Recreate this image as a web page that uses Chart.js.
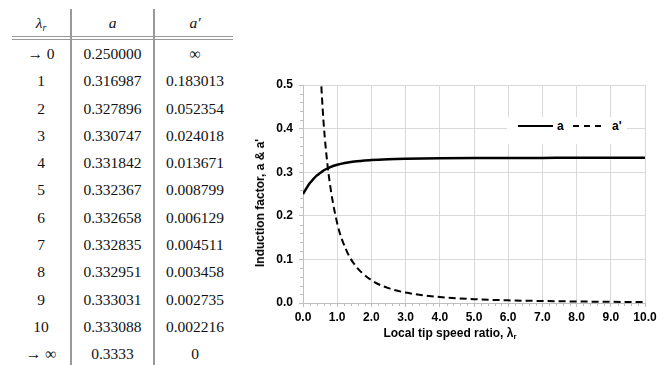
<!DOCTYPE html>
<html>
<head>
<meta charset="utf-8">
<script src="https://cdn.jsdelivr.net/npm/chart.js@4"></script>
<style>
  html, body { margin: 0; padding: 0; background: #fff; }
  #page { position: relative; width: 668px; height: 365px; overflow: hidden; background: #fff; }
  #tbl { position: absolute; left: 12px; top: 9px; border-collapse: collapse; font-family: 'Liberation Serif', 'DejaVu Serif', serif; font-size: 15.5px; color: #111; }
  #tbl th, #tbl td { padding: 0; text-align: center; font-weight: normal; }
  #tbl th { height: 31px; vertical-align: top; line-height: 28px; font-style: italic; }
  #tbl td { height: 27.3px; line-height: 27.3px; }
  #tbl .c1 { width: 58px; }
  #tbl .c2 { width: 81px; border-left: 2px solid #999; }
  #tbl .c3 { width: 80px; border-left: 2px solid #999; }
  #tbl sub { font-size: 10px; vertical-align: -3px; line-height: 0; }
  .rule { position: absolute; left: 12px; top: 36px; width: 221px; height: 2px; border-top: 1px solid #999; border-bottom: 1px solid #999; }
  #wrap { position: absolute; left: 240px; top: 60px; width: 428px; height: 305px; }
  .axt { position: absolute; font-family: 'Liberation Sans', Arial, sans-serif; font-weight: bold; font-size: 12px; color: #000; white-space: nowrap; }
  .axt sub { font-size: 8px; vertical-align: -2px; line-height: 0; }
  #legend { position: absolute; left: 507px; top: 117px; width: 120px; height: 27px; background: #fff;
            font-family: 'Liberation Sans', Arial, sans-serif; font-weight: bold; font-size: 12px; }
  #legend svg { position: absolute; left: 0; top: 0; }
  #legend span { position: absolute; top: 2px; line-height: 14px; }
</style>
</head>
<body>
<div id="page">
  <table id="tbl"><thead><tr>
    <th class="c1">λ<sub>r</sub></th><th class="c2">a</th><th class="c3">a′</th>
  </tr></thead><tbody id="tbody"></tbody></table>
  <div class="rule"></div>

  <div id="wrap"><canvas id="myChart"></canvas></div>

  <div class="axt" id="ytitle" style="left:260px; top:203px; transform: translate(-50%,-50%) rotate(-90deg);">Induction factor, a &amp; a'</div>
  <div class="axt" id="xtitle" style="left:450px; top:333px; transform: translate(-50%,-50%);">Local tip speed ratio, λ<sub>r</sub></div>

  <div id="legend">
    <svg width="120" height="27">
      <line x1="11" y1="9" x2="46" y2="9" stroke="#000" stroke-width="2"/>
      <line x1="66" y1="9" x2="97" y2="9" stroke="#000" stroke-width="2" stroke-dasharray="6,5"/>
    </svg>
    <span style="left:50px">a</span>
    <span style="left:105px">a'</span>
  </div>
</div>

<script>
// table values
const tableLambda = ['→ 0', '1', '2', '3', '4', '5', '6', '7', '8', '9', '10', '→ ∞']
const tableA = ['0.250000', '0.316987', '0.327896', '0.330747', '0.331842', '0.332367', '0.332658', '0.332835', '0.332951', '0.333031', '0.333088', '0.3333']
const tableAPrime = ['∞', '0.183013', '0.052354', '0.024018', '0.013671', '0.008799', '0.006129', '0.004511', '0.003458', '0.002735', '0.002216', '0']

const lambdaA = [0, 0.1, 0.2, 0.3, 0.4, 0.5, 0.6, 0.75, 1, 1.5, 2, 2.5, 3, 4, 5, 6, 7, 8, 9, 10]
const aValues = [0.250, 0.263, 0.275, 0.284, 0.292, 0.298, 0.304, 0.310, 0.317, 0.3245, 0.3279, 0.3297, 0.3307, 0.3318, 0.3324, 0.3327, 0.3328, 0.3330, 0.3330, 0.3331]

// curve a'
const lambdaAp = [0.5, 0.6, 0.75, 1, 1.25, 1.5, 2, 2.5, 3, 4, 5, 6, 7, 8, 9, 10]
const apValues = [0.547, 0.416, 0.295, 0.183, 0.124, 0.089, 0.0524, 0.034, 0.024, 0.0137, 0.0088, 0.0061, 0.0045, 0.0035, 0.0027, 0.0022]

const tbody = document.getElementById('tbody')
tableLambda.forEach((l, i) => {
  const tr = document.createElement('tr')
  tr.innerHTML = '<td class="c1">' + l + '</td><td class="c2">' + tableA[i] + '</td><td class="c3">' + tableAPrime[i] + '</td>'
  tbody.appendChild(tr)
})

const gridColor = '#d9d9d9'
const axisColor = '#bfbfbf'
const tickFont = { family: "'Liberation Sans', Arial, sans-serif", weight: 'bold', size: 12 }

const minorTicks = {
  id: 'minorTicks',
  afterDraw(chart) {
    const { ctx, scales: { x, y } } = chart
    ctx.save()
    ctx.strokeStyle = axisColor
    ctx.lineWidth = 1
    ctx.beginPath()
    for (let i = 1; i < 25; i++) {
      if (i % 5 === 0) continue
      const py = Math.round(y.getPixelForValue(i * 0.02)) + 0.5
      ctx.moveTo(x.left - 3, py)
      ctx.lineTo(x.left, py)
    }
    for (let i = 1; i < 50; i++) {
      if (i % 5 === 0) continue
      const px = Math.round(x.getPixelForValue(i * 0.2)) + 0.5
      ctx.moveTo(px, y.bottom)
      ctx.lineTo(px, y.bottom + 3)
    }
    ctx.stroke()
    ctx.restore()
  }
}

const data = {
  datasets: [
    {
      label: 'a',
      data: lambdaA.map((v, i) => ({ x: v, y: aValues[i] })),
      borderColor: '#000',
      borderWidth: 2.5,
      pointRadius: 0,
      cubicInterpolationMode: 'monotone'
    },
    {
      label: "a'",
      data: lambdaAp.map((v, i) => ({ x: v, y: apValues[i] })),
      borderColor: '#000',
      borderWidth: 2,
      borderDash: [7, 4],
      pointRadius: 0,
      cubicInterpolationMode: 'monotone'
    }
  ]
}

const config = {
  type: 'line',
  data: data,
  options: {
    responsive: true,
    maintainAspectRatio: false,
    animation: false,
    layout: { padding: { left: 0, top: 25, right: 23, bottom: 32 } },
    plugins: { legend: { display: false }, tooltip: { enabled: false } },
    scales: {
      x: {
        type: 'linear', min: 0, max: 10,
        ticks: { stepSize: 1, callback: v => v.toFixed(1), color: '#000', font: tickFont, padding: 3, maxRotation: 0 },
        grid: { color: gridColor, tickColor: axisColor, tickLength: 4 },
        border: { color: axisColor },
        afterFit(s) { s.height = 30 }
      },
      y: {
        min: 0, max: 0.5,
        ticks: { stepSize: 0.1, callback: v => v.toFixed(1), color: '#000', font: tickFont, padding: 6 },
        grid: { color: gridColor, tickColor: axisColor, tickLength: 4 },
        border: { color: axisColor },
        afterFit(s) { s.width = 63 }
      }
    }
  },
  plugins: [minorTicks]
}

const myChart = new Chart(document.getElementById('myChart'), config)
</script>
</body>
</html>
